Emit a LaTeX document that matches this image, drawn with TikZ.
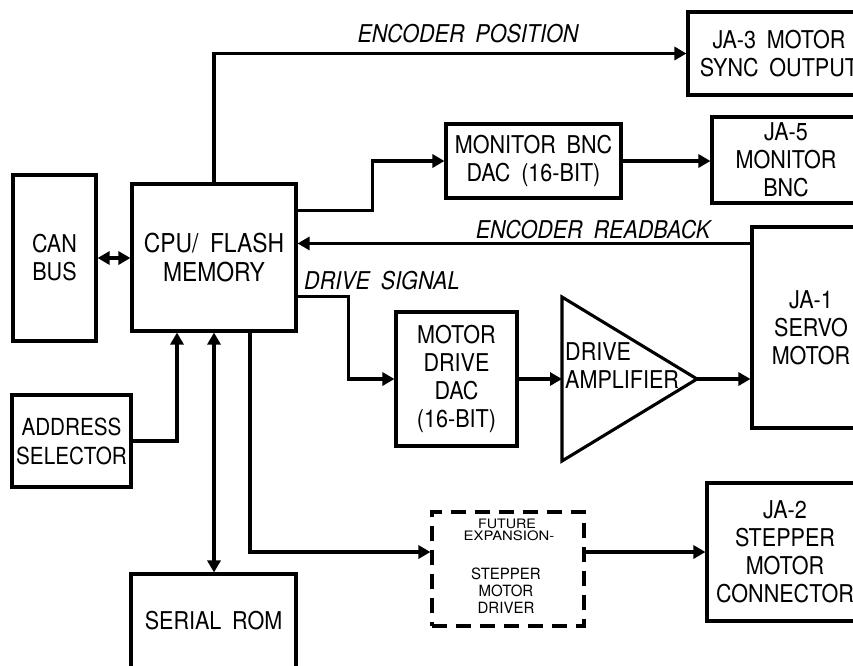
\documentclass[tikz,border=0pt]{standalone}
\usepackage{fontspec}
\usepackage{graphicx}
\setmainfont{TeX Gyre Heros}[FakeStretch=0.88, WordSpace=1.8]
\usetikzlibrary{arrows.meta}
\newcommand\fsbox{\fontsize{24.5}{28}\selectfont}
\newcommand\fscpu{\fontsize{26}{29}\selectfont}
\newcommand\fsaddr{\fontsize{23.5}{29}\selectfont}
\newcommand\fslbl{\fontsize{24.5}{28}\selectfont\itshape}
\newcommand\fssmall{\fontsize{13}{10}\selectfont}
\newcommand\fsmid{\fontsize{15.5}{17}\selectfont}
\tikzset{
  box/.style={draw, line width=3.1pt, inner sep=0pt, align=center, font=\fsbox},
  conn/.style={line width=3.1pt, -{Triangle[length=12pt,width=13pt]}},
  dconn/.style={line width=3.1pt, {Triangle[length=12pt,width=13pt]}-{Triangle[length=12pt,width=13pt]}},
  lbl/.style={inner sep=0pt, font=\fslbl},
  ftxt/.style={inner sep=0pt, anchor=base},
}
\begin{document}
\begin{tikzpicture}[x=1pt,y=-1pt]
\useasboundingbox (0,0) rectangle (853,665);
\clip (0,0) rectangle (853,665);
% boxes
\node[box, minimum width=83pt, minimum height=166pt] (can) at (54.5,258) {CAN\\BUS};
\node[box, minimum width=164pt, minimum height=147pt, font=\fscpu] (cpu) at (214,257.5) {CPU/ FLASH\\MEMORY};
\node[box, minimum width=119pt, minimum height=92pt, font=\fsaddr] (addr) at (71.5,441) {ADDRESS\\SELECTOR};
\node[box, minimum width=165pt, minimum height=94pt] (rom) at (213.5,621) {SERIAL ROM};
\node[box, minimum width=182pt, minimum height=83pt] (ja3) at (779,53.5) {JA-3 MOTOR\\SYNC OUTPUT};
\node[box, minimum width=175pt, minimum height=74pt] (mon) at (533.5,161) {MONITOR BNC\\DAC (16-BIT)};
\node[box, minimum width=148pt, minimum height=86pt] (ja5) at (786,160) {JA-5\\MONITOR\\BNC};
\node[box, minimum width=118pt, minimum height=201pt] (ja1) at (811,327.5) {JA-1\\SERVO\\MOTOR};
\node[box, minimum width=121pt, minimum height=134pt] (dac) at (456.5,379) {MOTOR\\DRIVE\\DAC\\(16-BIT)};
\node[box, dash pattern=on 15pt off 9pt, minimum width=152pt, minimum height=114pt] (fut) at (508,569) {};
\node[box, minimum width=156pt, minimum height=138pt] (ja2) at (785,552) {JA-2\\STEPPER\\MOTOR\\CONNECTOR};
% amplifier
\coordinate (ampA) at (562,297);
\coordinate (ampB) at (562,461);
\coordinate (ampT) at (697,379);
\draw[line width=3.1pt] (ampA) -- (ampT) -- (ampB) -- cycle;
\node[inner sep=0pt, anchor=west, align=left, font=\fsbox] (amptxt) at (565,366) {DRIVE\\AMPLIFIER};
% future expansion text
\node[ftxt, font=\fssmall] (f1) at (507,528) {\scalebox{1.25}[1]{FUTURE}};
\node[ftxt, font=\fssmall] (f2) at (509,540) {\scalebox{1.3}[1]{EXPANSION-}};
\node[ftxt, font=\fsmid] (f3) at (506,579) {\scalebox{1.1}[1]{STEPPER}};
\node[ftxt, font=\fsmid] (f4) at (506,596) {\scalebox{1.1}[1]{MOTOR}};
\node[ftxt, font=\fsmid] (f5) at (506,613) {\scalebox{1.1}[1]{DRIVER}};
% labels
\node[lbl] (encpos) at (468,34) {ENCODER POSITION};
\node[lbl] (encrb) at (593,230) {ENCODER READBACK};
\node[lbl, anchor=base west] (drsig) at (304,289) {DRIVE SIGNAL};
% connectors
\draw[conn] (cpu.north) |- (ja3.west);
\draw[conn] ([yshift=-28pt]cpu.north east) -- ++(75pt,0) |- (mon.west);
\draw[conn] (mon.east) -- (mon.east -| ja5.west);
\coordinate (rb) at ([yshift=-18pt]ja1.north west);
\draw[conn] (rb) -- (rb -| cpu.east);
\coordinate (ds) at ([yshift=36pt]cpu.south east);
\draw[conn] (ds) -- ++(51pt,0) |- (dac.west);
\draw[conn] (dac.east) -- (dac.east -| ampA);
\draw[conn] (ampT) -- (ampT -| ja1.west);
\draw[conn] (addr.east) -| ([xshift=-37pt]cpu.south);
\draw[dconn] (cpu.south) -- (cpu.south |- rom.north);
\coordinate (fw) at ([yshift=17pt]fut.west);
\draw[conn] ([xshift=36pt]cpu.south) |- (fw);
\draw[conn] (fw -| fut.east) -- (fw -| ja2.west);
\draw[dconn] (can.east) -- (can.east -| cpu.west);
\end{tikzpicture}
\end{document}
